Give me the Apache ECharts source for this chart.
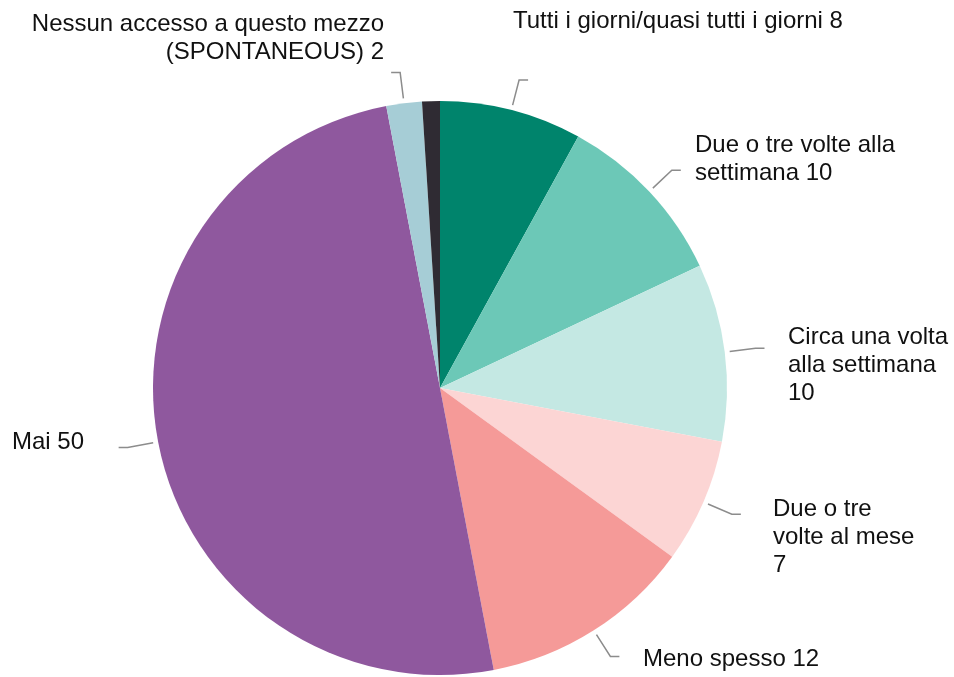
<!DOCTYPE html>
<html>
<head>
<meta charset="utf-8">
<style>
  html, body { margin: 0; padding: 0; background: #ffffff; }
  #chart { width: 954px; height: 677px; }
</style>
<script src="https://cdn.jsdelivr.net/npm/echarts@6/dist/echarts.min.js"></script>
</head>
<body>
<div id="chart"></div>
<script>
// Frequenza di utilizzo del mezzo (%)
const categories = [
  'Tutti i giorni/quasi tutti i giorni',
  'Due o tre volte alla settimana',
  'Circa una volta alla settimana',
  'Due o tre volte al mese',
  'Meno spesso',
  'Mai',
  'Nessun accesso a questo mezzo (SPONTANEOUS)',
  'Non sa'
];
const values = [8, 10, 10, 7, 12, 50, 2, 1];
// Label text with its line breaks (value appended at render time); empty = no label
const labelTexts = [
  'Tutti i giorni/quasi tutti i giorni ',
  'Due o tre volte alla\nsettimana ',
  'Circa una volta\nalla settimana\n',
  'Due o tre\nvolte al mese\n',
  'Meno spesso ',
  'Mai ',
  'Nessun accesso a questo mezzo\n(SPONTANEOUS) ',
  ''
];
const colors = ['#00846c', '#6cc8b7', '#c4e8e3', '#fcd5d4', '#f59a98', '#8f589e', '#a6cdd6', '#2f2b33'];

// Where each label block sits (top-left, or top-right for right-aligned text)
const labelPlacement = [
  { x: 513, y: 7,   align: 'left' },
  { x: 695, y: 131, align: 'left' },
  { x: 788, y: 323, align: 'left' },
  { x: 773, y: 495, align: 'left' },
  { x: 643, y: 645, align: 'left' },
  { x: 12,  y: 428, align: 'left' },
  { x: 384, y: 10,  align: 'right' },
  { x: 0,   y: 0,   align: 'left' }
];

const CX = 440, CY = 388, R = 287;

const pieData = categories.map((name, i) => ({
  name: name,
  value: values[i],
  itemStyle: { color: colors[i] },
  label: { show: labelTexts[i] !== '', align: labelPlacement[i].align }
}));

// Transparent twin used only to draw the short leader strokes, offset from the rim
const leaderData = categories.map((name, i) => ({
  name: name,
  value: values[i],
  label: { show: labelTexts[i] !== '' },
  labelLine: { show: labelTexts[i] !== '' }
}));

const chart = echarts.init(document.getElementById('chart'), null, { renderer: 'canvas' });
chart.setOption({
  backgroundColor: '#ffffff',
  animation: false,
  series: [
    {
      type: 'pie',
      center: [CX, CY],
      radius: [0, R],
      startAngle: 90,
      clockwise: true,
      avoidLabelOverlap: false,
      silent: true,
      data: pieData,
      label: {
        position: 'outside',
        color: '#111111',
        fontFamily: 'Liberation Sans, Arial, sans-serif',
        fontSize: 24,
        lineHeight: 28,
        formatter: (p) => labelTexts[p.dataIndex] + p.value
      },
      labelLine: { show: false },
      labelLayout: (params) => {
        const pl = labelPlacement[params.dataIndex];
        return { x: pl.x, y: pl.y, align: pl.align, verticalAlign: 'top' };
      }
    },
    {
      type: 'pie',
      center: [CX, CY],
      radius: [0, R + 5],
      startAngle: 90,
      clockwise: true,
      avoidLabelOverlap: false,
      silent: true,
      z: 1,
      data: leaderData,
      itemStyle: { color: 'rgba(0,0,0,0)' },
      label: { position: 'outside', formatter: ' ', fontSize: 4 },
      labelLine: {
        length: 26,
        length2: 9,
        smooth: false,
        lineStyle: { color: '#8c8c8c', width: 1.5 }
      }
    }
  ]
});
</script>
</body>
</html>
